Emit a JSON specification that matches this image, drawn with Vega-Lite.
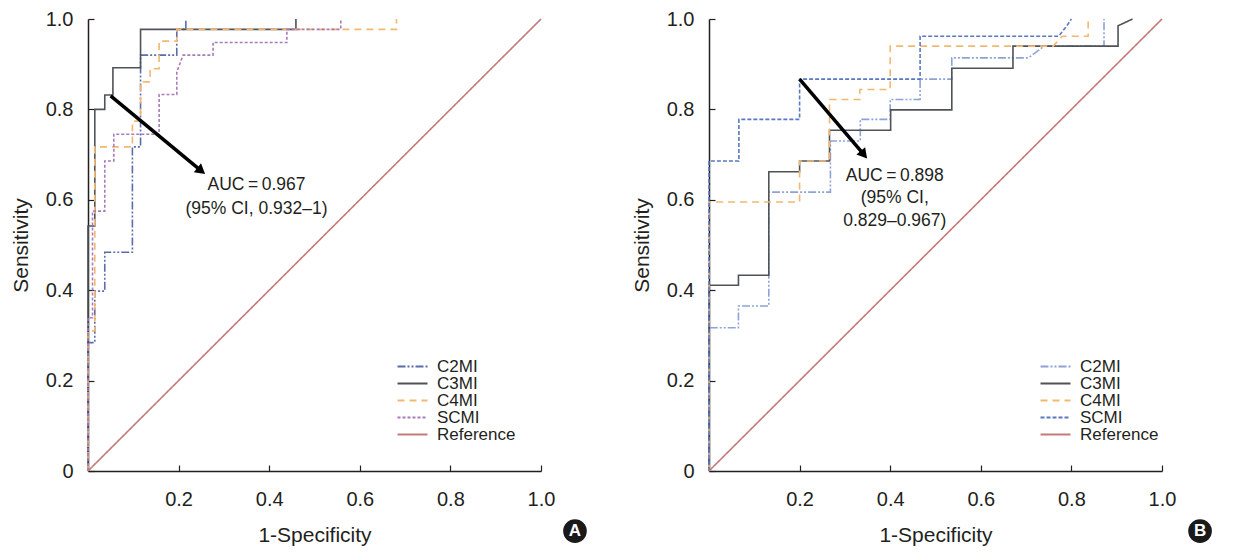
{
  "$schema": "https://vega.github.io/schema/vega-lite/v6.json",
  "padding": {"left": 10, "top": 9, "right": 5, "bottom": 5},
  "background": "white",
  "config": {
    "view": {"stroke": null},
    "font": "Liberation Sans",
    "axis": {
      "grid": false,
      "domainColor": "#231f20",
      "domainWidth": 1.5,
      "tickColor": "#231f20",
      "tickWidth": 1.2,
      "tickSize": -6,
      "labelColor": "#231f20",
      "labelFontSize": 20,
      "labelFlush": false,
      "titleFontSize": 21,
      "titleFontWeight": "normal",
      "titleColor": "#231f20"
    },
    "legend": {
      "title": null,
      "orient": "none",
      "symbolType": "M-2,0H2",
      "symbolSize": 225,
      "symbolStrokeWidth": 2,
      "labelFontSize": 17,
      "labelColor": "#231f20",
      "rowPadding": -3.6,
      "labelOffset": 16
    }
  },
  "datasets": {
    "curvesA": [
      {"series": "C2MI", "i": 0, "fpr": 0, "tpr": 0},
      {"series": "C2MI", "i": 1, "fpr": 0, "tpr": 0.284},
      {"series": "C2MI", "i": 2, "fpr": 0.015, "tpr": 0.284},
      {"series": "C2MI", "i": 3, "fpr": 0.015, "tpr": 0.398},
      {"series": "C2MI", "i": 4, "fpr": 0.037, "tpr": 0.398},
      {"series": "C2MI", "i": 5, "fpr": 0.037, "tpr": 0.484},
      {"series": "C2MI", "i": 6, "fpr": 0.098, "tpr": 0.484},
      {"series": "C2MI", "i": 7, "fpr": 0.098, "tpr": 0.717},
      {"series": "C2MI", "i": 8, "fpr": 0.116, "tpr": 0.717},
      {"series": "C2MI", "i": 9, "fpr": 0.116, "tpr": 0.92},
      {"series": "C2MI", "i": 10, "fpr": 0.196, "tpr": 0.92},
      {"series": "C2MI", "i": 11, "fpr": 0.196, "tpr": 0.977},
      {"series": "C2MI", "i": 12, "fpr": 0.216, "tpr": 0.977},
      {"series": "C2MI", "i": 13, "fpr": 0.216, "tpr": 1.0},
      {"series": "C3MI", "i": 0, "fpr": 0, "tpr": 0},
      {"series": "C3MI", "i": 1, "fpr": 0, "tpr": 0.542},
      {"series": "C3MI", "i": 2, "fpr": 0.015, "tpr": 0.542},
      {"series": "C3MI", "i": 3, "fpr": 0.015, "tpr": 0.8},
      {"series": "C3MI", "i": 4, "fpr": 0.037, "tpr": 0.8},
      {"series": "C3MI", "i": 5, "fpr": 0.037, "tpr": 0.832},
      {"series": "C3MI", "i": 6, "fpr": 0.055, "tpr": 0.832},
      {"series": "C3MI", "i": 7, "fpr": 0.055, "tpr": 0.892},
      {"series": "C3MI", "i": 8, "fpr": 0.116, "tpr": 0.892},
      {"series": "C3MI", "i": 9, "fpr": 0.116, "tpr": 0.977},
      {"series": "C3MI", "i": 10, "fpr": 0.459, "tpr": 0.977},
      {"series": "C3MI", "i": 11, "fpr": 0.459, "tpr": 1.0},
      {"series": "C4MI", "i": 0, "fpr": 0, "tpr": 0},
      {"series": "C4MI", "i": 1, "fpr": 0, "tpr": 0.31},
      {"series": "C4MI", "i": 2, "fpr": 0.015, "tpr": 0.31},
      {"series": "C4MI", "i": 3, "fpr": 0.015, "tpr": 0.717},
      {"series": "C4MI", "i": 4, "fpr": 0.098, "tpr": 0.717},
      {"series": "C4MI", "i": 5, "fpr": 0.098, "tpr": 0.774},
      {"series": "C4MI", "i": 6, "fpr": 0.116, "tpr": 0.774},
      {"series": "C4MI", "i": 7, "fpr": 0.116, "tpr": 0.861},
      {"series": "C4MI", "i": 8, "fpr": 0.137, "tpr": 0.861},
      {"series": "C4MI", "i": 9, "fpr": 0.137, "tpr": 0.89},
      {"series": "C4MI", "i": 10, "fpr": 0.157, "tpr": 0.89},
      {"series": "C4MI", "i": 11, "fpr": 0.157, "tpr": 0.951},
      {"series": "C4MI", "i": 12, "fpr": 0.196, "tpr": 0.951},
      {"series": "C4MI", "i": 13, "fpr": 0.196, "tpr": 0.977},
      {"series": "C4MI", "i": 14, "fpr": 0.681, "tpr": 0.977},
      {"series": "C4MI", "i": 15, "fpr": 0.681, "tpr": 1.0},
      {"series": "SCMI", "i": 0, "fpr": 0, "tpr": 0},
      {"series": "SCMI", "i": 1, "fpr": 0, "tpr": 0.339},
      {"series": "SCMI", "i": 2, "fpr": 0.01, "tpr": 0.339},
      {"series": "SCMI", "i": 3, "fpr": 0.01, "tpr": 0.575},
      {"series": "SCMI", "i": 4, "fpr": 0.037, "tpr": 0.575},
      {"series": "SCMI", "i": 5, "fpr": 0.037, "tpr": 0.686},
      {"series": "SCMI", "i": 6, "fpr": 0.057, "tpr": 0.686},
      {"series": "SCMI", "i": 7, "fpr": 0.057, "tpr": 0.745},
      {"series": "SCMI", "i": 8, "fpr": 0.157, "tpr": 0.745},
      {"series": "SCMI", "i": 9, "fpr": 0.157, "tpr": 0.833},
      {"series": "SCMI", "i": 10, "fpr": 0.196, "tpr": 0.833},
      {"series": "SCMI", "i": 11, "fpr": 0.196, "tpr": 0.883},
      {"series": "SCMI", "i": 12, "fpr": 0.21, "tpr": 0.92},
      {"series": "SCMI", "i": 13, "fpr": 0.276, "tpr": 0.92},
      {"series": "SCMI", "i": 14, "fpr": 0.276, "tpr": 0.948},
      {"series": "SCMI", "i": 15, "fpr": 0.439, "tpr": 0.948},
      {"series": "SCMI", "i": 16, "fpr": 0.439, "tpr": 0.977},
      {"series": "SCMI", "i": 17, "fpr": 0.558, "tpr": 0.977},
      {"series": "SCMI", "i": 18, "fpr": 0.558, "tpr": 1.0},
      {"series": "Reference", "i": 0, "fpr": 0, "tpr": 0},
      {"series": "Reference", "i": 1, "fpr": 1, "tpr": 1}
    ],
    "curvesB": [
      {"series": "C2MI", "i": 0, "fpr": 0, "tpr": 0},
      {"series": "C2MI", "i": 1, "fpr": 0, "tpr": 0.317},
      {"series": "C2MI", "i": 2, "fpr": 0.065, "tpr": 0.317},
      {"series": "C2MI", "i": 3, "fpr": 0.065, "tpr": 0.365},
      {"series": "C2MI", "i": 4, "fpr": 0.132, "tpr": 0.365},
      {"series": "C2MI", "i": 5, "fpr": 0.132, "tpr": 0.617},
      {"series": "C2MI", "i": 6, "fpr": 0.268, "tpr": 0.617},
      {"series": "C2MI", "i": 7, "fpr": 0.268, "tpr": 0.73},
      {"series": "C2MI", "i": 8, "fpr": 0.334, "tpr": 0.73},
      {"series": "C2MI", "i": 9, "fpr": 0.334, "tpr": 0.778},
      {"series": "C2MI", "i": 10, "fpr": 0.4, "tpr": 0.778},
      {"series": "C2MI", "i": 11, "fpr": 0.4, "tpr": 0.822},
      {"series": "C2MI", "i": 12, "fpr": 0.466, "tpr": 0.822},
      {"series": "C2MI", "i": 13, "fpr": 0.466, "tpr": 0.867},
      {"series": "C2MI", "i": 14, "fpr": 0.536, "tpr": 0.867},
      {"series": "C2MI", "i": 15, "fpr": 0.536, "tpr": 0.914},
      {"series": "C2MI", "i": 16, "fpr": 0.705, "tpr": 0.914},
      {"series": "C2MI", "i": 17, "fpr": 0.74, "tpr": 0.94},
      {"series": "C2MI", "i": 18, "fpr": 0.872, "tpr": 0.94},
      {"series": "C2MI", "i": 19, "fpr": 0.872, "tpr": 1.0},
      {"series": "C3MI", "i": 0, "fpr": 0, "tpr": 0},
      {"series": "C3MI", "i": 1, "fpr": 0, "tpr": 0.411},
      {"series": "C3MI", "i": 2, "fpr": 0.065, "tpr": 0.411},
      {"series": "C3MI", "i": 3, "fpr": 0.065, "tpr": 0.433},
      {"series": "C3MI", "i": 4, "fpr": 0.132, "tpr": 0.433},
      {"series": "C3MI", "i": 5, "fpr": 0.132, "tpr": 0.662},
      {"series": "C3MI", "i": 6, "fpr": 0.2, "tpr": 0.662},
      {"series": "C3MI", "i": 7, "fpr": 0.2, "tpr": 0.686},
      {"series": "C3MI", "i": 8, "fpr": 0.266, "tpr": 0.686},
      {"series": "C3MI", "i": 9, "fpr": 0.266, "tpr": 0.754},
      {"series": "C3MI", "i": 10, "fpr": 0.401, "tpr": 0.754},
      {"series": "C3MI", "i": 11, "fpr": 0.401, "tpr": 0.799},
      {"series": "C3MI", "i": 12, "fpr": 0.536, "tpr": 0.799},
      {"series": "C3MI", "i": 13, "fpr": 0.536, "tpr": 0.891},
      {"series": "C3MI", "i": 14, "fpr": 0.671, "tpr": 0.891},
      {"series": "C3MI", "i": 15, "fpr": 0.671, "tpr": 0.94},
      {"series": "C3MI", "i": 16, "fpr": 0.903, "tpr": 0.94},
      {"series": "C3MI", "i": 17, "fpr": 0.903, "tpr": 0.985},
      {"series": "C3MI", "i": 18, "fpr": 0.935, "tpr": 1.0},
      {"series": "C4MI", "i": 0, "fpr": 0, "tpr": 0},
      {"series": "C4MI", "i": 1, "fpr": 0, "tpr": 0.595},
      {"series": "C4MI", "i": 2, "fpr": 0.2, "tpr": 0.595},
      {"series": "C4MI", "i": 3, "fpr": 0.2, "tpr": 0.686},
      {"series": "C4MI", "i": 4, "fpr": 0.266, "tpr": 0.686},
      {"series": "C4MI", "i": 5, "fpr": 0.266, "tpr": 0.822},
      {"series": "C4MI", "i": 6, "fpr": 0.333, "tpr": 0.822},
      {"series": "C4MI", "i": 7, "fpr": 0.333, "tpr": 0.844},
      {"series": "C4MI", "i": 8, "fpr": 0.4, "tpr": 0.844},
      {"series": "C4MI", "i": 9, "fpr": 0.4, "tpr": 0.94},
      {"series": "C4MI", "i": 10, "fpr": 0.76, "tpr": 0.94},
      {"series": "C4MI", "i": 11, "fpr": 0.78, "tpr": 0.962},
      {"series": "C4MI", "i": 12, "fpr": 0.837, "tpr": 0.962},
      {"series": "C4MI", "i": 13, "fpr": 0.837, "tpr": 1.0},
      {"series": "SCMI", "i": 0, "fpr": 0, "tpr": 0},
      {"series": "SCMI", "i": 1, "fpr": 0, "tpr": 0.686},
      {"series": "SCMI", "i": 2, "fpr": 0.066, "tpr": 0.686},
      {"series": "SCMI", "i": 3, "fpr": 0.066, "tpr": 0.778},
      {"series": "SCMI", "i": 4, "fpr": 0.2, "tpr": 0.778},
      {"series": "SCMI", "i": 5, "fpr": 0.2, "tpr": 0.867},
      {"series": "SCMI", "i": 6, "fpr": 0.466, "tpr": 0.867},
      {"series": "SCMI", "i": 7, "fpr": 0.466, "tpr": 0.962},
      {"series": "SCMI", "i": 8, "fpr": 0.772, "tpr": 0.962},
      {"series": "SCMI", "i": 9, "fpr": 0.79, "tpr": 0.985},
      {"series": "SCMI", "i": 10, "fpr": 0.8, "tpr": 1.0},
      {"series": "Reference", "i": 0, "fpr": 0, "tpr": 0},
      {"series": "Reference", "i": 1, "fpr": 1, "tpr": 1}
    ],
    "noteA": [{"lines": ["AUC\u2009=\u20090.967", "(95% CI, 0.932\u20131)"]}],
    "noteB": [{"lines": ["AUC\u2009=\u20090.898", "(95% CI,", "0.829\u20130.967)"]}],
    "badgeA": [{"label": "A"}],
    "badgeB": [{"label": "B"}]
  },
  "hconcat": [
    {
      "width": 453,
      "height": 452,
      "layer": [
        {
          "data": {"name": "curvesA"},
          "mark": {"type": "line", "strokeWidth": 1.6, "clip": false},
          "encoding": {
            "x": {"field": "fpr", "type": "quantitative", "scale": {"domain": [0, 1], "nice": false},
              "axis": {"title": "1-Specificity", "values": [0.2, 0.4, 0.6, 0.8, 1.0], "format": ".1f", "labelPadding": 24, "titlePadding": 15}},
            "y": {"field": "tpr", "type": "quantitative", "scale": {"domain": [0, 1], "nice": false},
              "axis": {"title": "Sensitivity", "values": [0, 0.2, 0.4, 0.6, 0.8, 1.0], "labelExpr": "datum.value == 0 ? '0' : format(datum.value, '.1f')", "labelPadding": 21, "titlePadding": 14}},
            "color": {"field": "series", "type": "nominal",
              "scale": {"domain": ["C2MI", "C3MI", "C4MI", "SCMI", "Reference"], "range": ["#5b6da9", "#4e5358", "#f2b872", "#a77bb8", "#c47a7a"]},
              "legend": {"legendX": 316, "legendY": 339}},
            "strokeDash": {"field": "series", "type": "nominal",
              "scale": {"domain": ["C2MI", "C3MI", "C4MI", "SCMI", "Reference"], "range": [[8, 2, 2, 2, 2, 2], [1, 0], [7, 5], [3, 2], [1, 0]]},
              "legend": {"legendX": 316, "legendY": 339}},
            "order": {"field": "i", "type": "quantitative"}
          }
        },
        {
          "data": {"values": [{}]},
          "mark": {"type": "rule", "strokeWidth": 3.5, "color": "black"},
          "encoding": {"x": {"datum": 0.05}, "y": {"datum": 0.83}, "x2": {"datum": 0.25}, "y2": {"datum": 0.664}}
        },
        {
          "data": {"values": [{}]},
          "mark": {"type": "point", "shape": "triangle-right", "filled": true, "color": "black", "size": 130, "angle": 39, "opacity": 1},
          "encoding": {"x": {"datum": 0.25}, "y": {"datum": 0.664}}
        },
        {
          "data": {"name": "noteA"},
          "mark": {"type": "text", "fontSize": 17.5, "color": "#231f20", "lineHeight": 24, "align": "center", "baseline": "middle"},
          "encoding": {"x": {"datum": 0.372}, "y": {"datum": 0.633}, "text": {"field": "lines"}}
        },
        {
          "data": {"name": "badgeA"},
          "mark": {"type": "point", "shape": "circle", "filled": true, "color": "#1a1a1a", "size": 560, "opacity": 1},
          "encoding": {"x": {"datum": 1.075}, "y": {"datum": -0.133}}
        },
        {
          "data": {"name": "badgeA"},
          "mark": {"type": "text", "fontSize": 17, "fontWeight": "bold", "color": "white", "align": "center", "baseline": "middle"},
          "encoding": {"x": {"datum": 1.075}, "y": {"datum": -0.133}, "text": {"field": "label"}}
        }
      ]
    },
    {
      "width": 453,
      "height": 452,
      "layer": [
        {
          "data": {"name": "curvesB"},
          "mark": {"type": "line", "strokeWidth": 1.6, "clip": false},
          "encoding": {
            "x": {"field": "fpr", "type": "quantitative", "scale": {"domain": [0, 1], "nice": false},
              "axis": {"title": "1-Specificity", "values": [0.2, 0.4, 0.6, 0.8, 1.0], "format": ".1f", "labelPadding": 24, "titlePadding": 15}},
            "y": {"field": "tpr", "type": "quantitative", "scale": {"domain": [0, 1], "nice": false},
              "axis": {"title": "Sensitivity", "values": [0, 0.2, 0.4, 0.6, 0.8, 1.0], "labelExpr": "datum.value == 0 ? '0' : format(datum.value, '.1f')", "labelPadding": 21, "titlePadding": 14}},
            "color": {"field": "series", "type": "nominal",
              "scale": {"domain": ["C2MI", "C3MI", "C4MI", "SCMI", "Reference"], "range": ["#8fa2d8", "#4e5358", "#f2b872", "#5a78c0", "#c47a7a"]},
              "legend": {"legendX": 338, "legendY": 339}},
            "strokeDash": {"field": "series", "type": "nominal",
              "scale": {"domain": ["C2MI", "C3MI", "C4MI", "SCMI", "Reference"], "range": [[8, 2, 2, 2, 2, 2], [1, 0], [7, 5], [4, 2], [1, 0]]},
              "legend": {"legendX": 338, "legendY": 339}},
            "order": {"field": "i", "type": "quantitative"}
          }
        },
        {
          "data": {"values": [{}]},
          "mark": {"type": "rule", "strokeWidth": 3.5, "color": "black"},
          "encoding": {"x": {"datum": 0.2}, "y": {"datum": 0.867}, "x2": {"datum": 0.342}, "y2": {"datum": 0.7}}
        },
        {
          "data": {"values": [{}]},
          "mark": {"type": "point", "shape": "triangle-right", "filled": true, "color": "black", "size": 130, "angle": 50, "opacity": 1},
          "encoding": {"x": {"datum": 0.342}, "y": {"datum": 0.7}}
        },
        {
          "data": {"name": "noteB"},
          "mark": {"type": "text", "fontSize": 17.5, "color": "#231f20", "lineHeight": 22.5, "align": "center", "baseline": "middle"},
          "encoding": {"x": {"datum": 0.41}, "y": {"datum": 0.653}, "text": {"field": "lines"}}
        },
        {
          "data": {"name": "badgeB"},
          "mark": {"type": "point", "shape": "circle", "filled": true, "color": "#1a1a1a", "size": 560, "opacity": 1},
          "encoding": {"x": {"datum": 1.084}, "y": {"datum": -0.133}}
        },
        {
          "data": {"name": "badgeB"},
          "mark": {"type": "text", "fontSize": 17, "fontWeight": "bold", "color": "white", "align": "center", "baseline": "middle"},
          "encoding": {"x": {"datum": 1.084}, "y": {"datum": -0.133}, "text": {"field": "label"}}
        }
      ]
    }
  ],
  "spacing": 168,
  "bounds": "flush",
  "resolve": {"scale": {"color": "independent", "strokeDash": "independent"}}
}
